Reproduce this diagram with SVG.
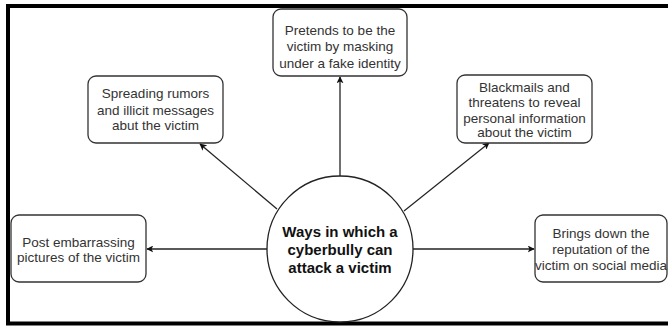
<svg xmlns="http://www.w3.org/2000/svg" width="668" height="327" viewBox="0 0 668 327">
<defs>
<style>
.box{fill:#fff;stroke:#333;stroke-width:1.3}
.t{font-family:"Liberation Sans",Arial,sans-serif;font-size:13.5px;fill:#333;text-anchor:middle}
.c{font-family:"Liberation Sans",Arial,sans-serif;font-size:15px;font-weight:bold;fill:#111;text-anchor:middle}
.e{stroke:#222;stroke-width:1.3;fill:none;marker-end:url(#ah)}
</style>
<marker id="ah" viewBox="0 0 10 10" refX="9" refY="5" markerWidth="7" markerHeight="7" markerUnits="userSpaceOnUse" orient="auto">
<path d="M0,0 L10,5 L0,10 L2.5,5 Z" fill="#111"/>
</marker>
</defs>
<rect x="0" y="0" width="668" height="327" fill="#fff"/>
<rect id="frame" x="8" y="6" width="690" height="317.5" fill="none" stroke="#000" stroke-width="4"/>
<g id="connectors">
<line class="e" x1="340" y1="176" x2="340" y2="77"/>
<line class="e" x1="277" y1="209" x2="200" y2="144"/>
<line class="e" x1="404" y1="211" x2="489" y2="143"/>
<line class="e" x1="267" y1="249" x2="147" y2="249"/>
<line class="e" x1="413" y1="249" x2="534" y2="249"/>
</g>
<g id="center">
<circle cx="340" cy="249" r="73" fill="#fff" stroke="#222" stroke-width="1.3"/>
<text class="c" x="340" y="237">Ways in which a</text>
<text class="c" x="340" y="255">cyberbully can</text>
<text class="c" x="340" y="273">attack a victim</text>
</g>
<g id="n-pretends">
<rect class="box" x="273" y="9" width="134" height="67" rx="8"/>
<text class="t" x="340" y="34.5">Pretends to be the</text>
<text class="t" x="340" y="51">victim by masking</text>
<text class="t" x="340" y="67.5">under a fake identity</text>
</g>
<g id="n-spreading">
<rect class="box" x="88" y="76" width="135" height="67" rx="8"/>
<text class="t" x="155.5" y="98">Spreading rumors</text>
<text class="t" x="155.5" y="114.5">and illicit messages</text>
<text class="t" x="155.5" y="130">abut the victim</text>
</g>
<g id="n-blackmails">
<rect class="box" x="457" y="75" width="135" height="68" rx="8"/>
<text class="t" x="524.5" y="92">Blackmails and</text>
<text class="t" x="524.5" y="107">threatens to reveal</text>
<text class="t" x="524.5" y="122.5">personal information</text>
<text class="t" x="524.5" y="137">about the victim</text>
</g>
<g id="n-post">
<rect class="box" x="11" y="215" width="135" height="67" rx="8"/>
<text class="t" x="78.5" y="246.5">Post embarrassing</text>
<text class="t" x="78.5" y="262">pictures of the victim</text>
</g>
<g id="n-brings">
<rect class="box" x="535" y="215" width="132" height="67" rx="8"/>
<text class="t" x="601" y="238">Brings down the</text>
<text class="t" x="601" y="254">reputation of the</text>
<text class="t" x="601" y="270">victim on social media</text>
</g>
</svg>
